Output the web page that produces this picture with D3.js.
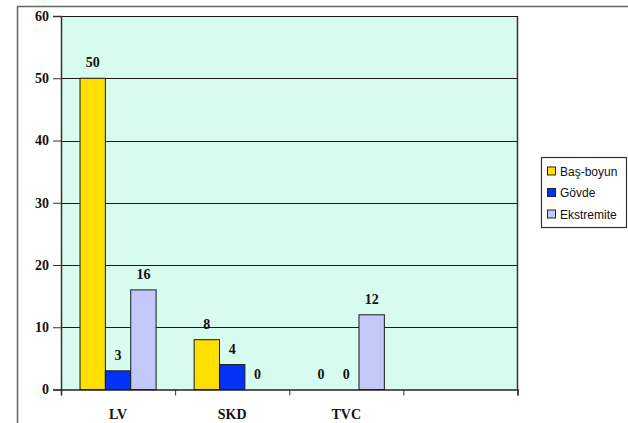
<!DOCTYPE html>
<html>
<head>
<meta charset="utf-8">
<script src="https://cdn.jsdelivr.net/npm/d3@7"></script>
<style>
  html, body { margin: 0; padding: 0; background: #ffffff; }
  svg { display: block; }
</style>
</head>
<body>
<svg id="chart" width="628" height="423"></svg>
<script>
// Categories on the x axis (the fourth band is left empty)
const categories = ["LV", "SKD", "TVC", ""];
// Series names and values per category
const seriesNames = ["Baş-boyun", "Gövde", "Ekstremite"];
const basBoyun   = [50, 8, 0, null];
const govde      = [3, 4, 0, null];
const ekstremite = [16, 0, 12, null];
const yTicks = [0, 10, 20, 30, 40, 50, 60];
const seriesColors = ["#ffdf00", "#0432f5", "#c2c8f7"];

const seriesValues = [basBoyun, govde, ekstremite];

const svg = d3.select("#chart");
const plot = { left: 61, right: 517.5, top: 16, bottom: 389.5 };

// Outer frame: top and left edges
svg.append("line").attr("x1", 17).attr("x2", 628).attr("y1", 6.5).attr("y2", 6.5)
  .attr("stroke", "#666").attr("stroke-width", 1.5);
svg.append("line").attr("x1", 17.5).attr("x2", 17.5).attr("y1", 6).attr("y2", 423)
  .attr("stroke", "#666").attr("stroke-width", 1.5);

const x = d3.scaleBand().domain(categories.map((c, i) => i))
  .range([plot.left, plot.right]).paddingInner(0).paddingOuter(0);
const y = d3.scaleLinear().domain([0, 60]).range([plot.bottom, plot.top]);
// Bars of one category fill the middle two thirds of its band
const xs = d3.scaleBand().domain(d3.range(seriesNames.length))
  .range([x.bandwidth() / 6, x.bandwidth() * 5 / 6]).paddingInner(0).paddingOuter(0);

// Plot background
svg.append("rect")
  .attr("x", plot.left).attr("y", plot.top)
  .attr("width", plot.right - plot.left).attr("height", plot.bottom - plot.top)
  .attr("fill", "#d8fbef");

// Horizontal gridlines
svg.append("g").selectAll("line").data(yTicks.filter(t => t > 0)).join("line")
  .attr("x1", plot.left).attr("x2", plot.right)
  .attr("y1", d => Math.round(y(d)) + 0.5).attr("y2", d => Math.round(y(d)) + 0.5)
  .attr("stroke", "#1a1a1a").attr("stroke-width", 1);

// Right border of plot area
svg.append("line").attr("x1", plot.right).attr("x2", plot.right)
  .attr("y1", plot.top).attr("y2", plot.bottom)
  .attr("stroke", "#333").attr("stroke-width", 1.5);

// Bars
const bars = svg.append("g");
seriesValues.forEach((vals, s) => {
  bars.selectAll(null).data(vals.map((v, i) => ({ v, i }))).join("rect")
    .filter(d => d.v !== null && d.v > 0)
    .attr("x", d => x(d.i) + xs(s))
    .attr("width", xs.bandwidth())
    .attr("y", d => y(d.v))
    .attr("height", d => y(0) - y(d.v))
    .attr("fill", seriesColors[s])
    .attr("stroke", "#1a1a1a").attr("stroke-width", 1);
});

const serif = "'Liberation Serif', 'Times New Roman', serif";

// Value labels
const labels = svg.append("g")
  .attr("font-family", serif)
  .attr("font-weight", "bold").attr("font-size", 14).attr("fill", "#111");
seriesValues.forEach((vals, s) => {
  labels.selectAll(null).data(vals.map((v, i) => ({ v, i })).filter(d => d.v !== null)).join("text")
    .attr("x", d => x(d.i) + xs(s) + xs.bandwidth() / 2)
    .attr("y", d => y(d.v) - 11)
    .attr("text-anchor", "middle")
    .text(d => d.v);
});

// Y axis
const yAxis = svg.append("g").attr("transform", `translate(${plot.left},0)`)
  .call(d3.axisLeft(y).tickValues(yTicks).tickSize(8).tickPadding(4).tickFormat(d3.format("d")));
yAxis.select(".domain").attr("stroke", "#333").attr("stroke-width", 1.5);
yAxis.selectAll(".tick line").attr("stroke", "#333");
yAxis.selectAll("text")
  .attr("font-family", serif)
  .attr("font-weight", "bold").attr("font-size", 14).attr("fill", "#111");

// X axis
const xTickScale = d3.scaleLinear().domain([0, categories.length]).range([plot.left, plot.right]);
const xAxis = svg.append("g").attr("transform", `translate(0,${plot.bottom})`)
  .call(d3.axisBottom(xTickScale).ticks(categories.length).tickSize(6).tickFormat(""));
xAxis.select(".domain").attr("stroke", "#222").attr("stroke-width", 1.5);
xAxis.selectAll(".tick line").attr("stroke", "#333");
svg.append("g").selectAll("text").data(categories).join("text")
  .attr("x", (d, i) => x(i) + x.bandwidth() / 2)
  .attr("y", 419)
  .attr("text-anchor", "middle")
  .attr("font-family", serif)
  .attr("font-weight", "bold").attr("font-size", 14).attr("fill", "#111")
  .text(d => d);

// Legend
const legend = svg.append("g");
legend.append("rect").attr("x", 541.5).attr("y", 157.5).attr("width", 85).attr("height", 70)
  .attr("fill", "#fff").attr("stroke", "#333").attr("stroke-width", 1.2);
seriesNames.forEach((name, i) => {
  const cy = 171 + i * 21.5;
  legend.append("rect").attr("x", 547.5).attr("y", cy - 4).attr("width", 8).attr("height", 8)
    .attr("fill", seriesColors[i]).attr("stroke", "#222").attr("stroke-width", 1);
  legend.append("text").attr("x", 560).attr("y", cy + 4.5)
    .attr("font-family", "'Liberation Sans', Arial, sans-serif").attr("font-size", 12).attr("fill", "#111")
    .text(name);
});
</script>
</body>
</html>
